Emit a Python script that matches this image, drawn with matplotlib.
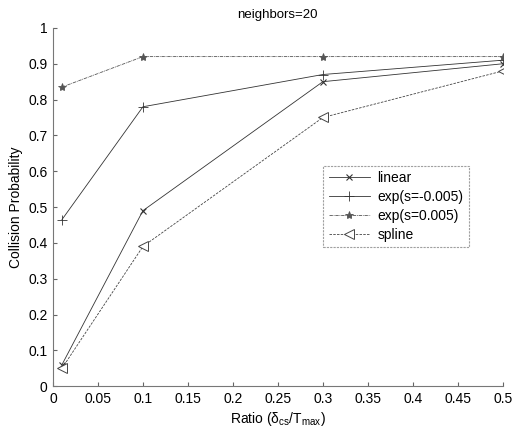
import matplotlib
matplotlib.use("Agg")
import matplotlib.pyplot as plt

plt.rcParams['font.family'] = ['Liberation Sans', 'DejaVu Sans']

ratio = [0.01, 0.1, 0.3, 0.5]
linear = [0.06, 0.49, 0.85, 0.90]
exp_neg = [0.465, 0.78, 0.87, 0.91]
exp_pos = [0.835, 0.92, 0.92, 0.92]
spline = [0.05, 0.39, 0.75, 0.88]

xticks = [0, 0.05, 0.1, 0.15, 0.2, 0.25, 0.3, 0.35, 0.4, 0.45, 0.5]
yticks = [0, 0.1, 0.2, 0.3, 0.4, 0.5, 0.6, 0.7, 0.8, 0.9, 1]

fig = plt.figure(figsize=(5.12, 4.30), dpi=100)
ax = fig.add_axes([0.1035, 0.102, 0.8785, 0.833])

ax.plot(ratio, linear, color='#333333', lw=0.6, ls='-', marker='x', ms=4, mew=0.8, label='linear')
ax.plot(ratio, exp_neg, color='#333333', lw=0.6, ls='-', marker='+', ms=7, mew=0.6, label='exp(s=-0.005)')
ax.plot(ratio, exp_pos, color='#555555', lw=0.6, ls=(0, (4, 1, 1, 1)), marker='*', ms=6, mew=0.6, label='exp(s=0.005)')
ax.plot(ratio, spline, color='#444444', lw=0.6, ls=(0, (3, 1.5)), marker='<', ms=7, mfc='white', mew=0.7, label='spline')

ax.set_xlim(0, 0.5)
ax.set_ylim(0, 1)
ax.set_xticks(xticks)
ax.set_xticklabels([f'{v:g}' for v in xticks])
ax.set_yticks(yticks)
ax.set_yticklabels([f'{v:g}' for v in yticks])
ax.tick_params(direction='in', length=3, labelsize=10, color='#666666', pad=4)
for s in ['top', 'right']:
    ax.spines[s].set_visible(False)
for s in ['left', 'bottom']:
    ax.spines[s].set_color('#777777')
    ax.spines[s].set_linewidth(0.8)
    ax.spines[s].set_linestyle((0, (2, 1)))

ax.set_title('neighbors=20', fontsize=9.5, pad=7)
ax.set_xlabel(r'Ratio ($\mathregular{\delta_{cs}/T_{max}}$)', fontsize=10, labelpad=3)
ax.set_ylabel('Collision Probability', fontsize=10, labelpad=4)

leg = ax.legend(loc='upper left', bbox_to_anchor=(0.585, 0.635), fontsize=10, frameon=True,
                fancybox=False, edgecolor='#888888', handlelength=3.0, borderpad=0.4,
                labelspacing=0.35, handletextpad=0.5)
leg.get_frame().set_linestyle((0, (2, 1)))
leg.get_frame().set_linewidth(0.8)

fig.savefig('out.png', dpi=100)
